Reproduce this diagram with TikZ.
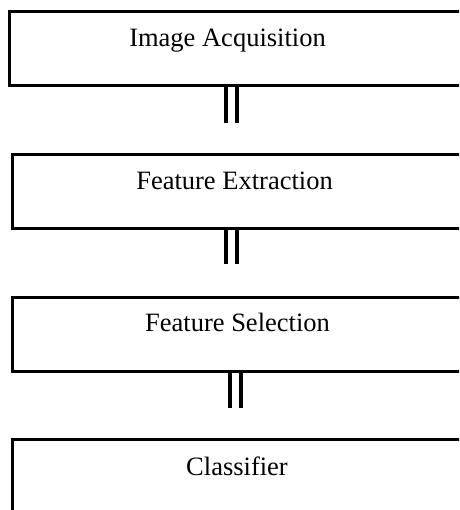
\documentclass[tikz,border=0pt]{standalone}
\usepackage{fontspec}
\setmainfont{Liberation Serif}
\begin{document}
\begin{tikzpicture}[x=1pt,y=-1pt,
  stagebox/.style={draw=black, line width=3pt, rectangle, inner sep=0pt, outer sep=0pt, anchor=north west, minimum width=470pt},
  stagetext/.style={anchor=base, inner sep=0pt, font=\fontsize{26.5}{30}\selectfont},
  link/.style={draw=black, line width=3.6pt}]
\useasboundingbox (0,0) rectangle (459,510);
\clip (0,0) rectangle (459,510);
\node[stagebox, minimum height=74.5pt] (box1) at (9.5,11.5) {};
\node[stagebox, minimum height=74.2pt] (box2) at (12.5,154.5) {};
\node[stagebox, minimum height=73.5pt] (box3) at (12.5,297.5) {};
\node[stagebox, minimum height=90pt] (box4) at (12.5,439.5) {};
\node[stagetext] (t1) at (227.5,47) {Image Acquisition};
\node[stagetext] (t2) at (234.5,190) {Feature Extraction};
\node[stagetext] (t3) at (237.5,331.7) {Feature Selection};
\node[stagetext] (t4) at (237,475) {Classifier};
\coordinate (e1a) at (226,122.7);
\coordinate (e1b) at (237,122.7);
\coordinate (e2a) at (226,264.3);
\coordinate (e2b) at (237,264.3);
\coordinate (e3a) at (230,407.7);
\coordinate (e3b) at (241,407.7);
\draw[link] (box1.south -| e1a) -- (e1a);
\draw[link] (box1.south -| e1b) -- (e1b);
\draw[link] (box2.south -| e2a) -- (e2a);
\draw[link] (box2.south -| e2b) -- (e2b);
\draw[link] (box3.south -| e3a) -- (e3a);
\draw[link] (box3.south -| e3b) -- (e3b);
\end{tikzpicture}
\end{document}
